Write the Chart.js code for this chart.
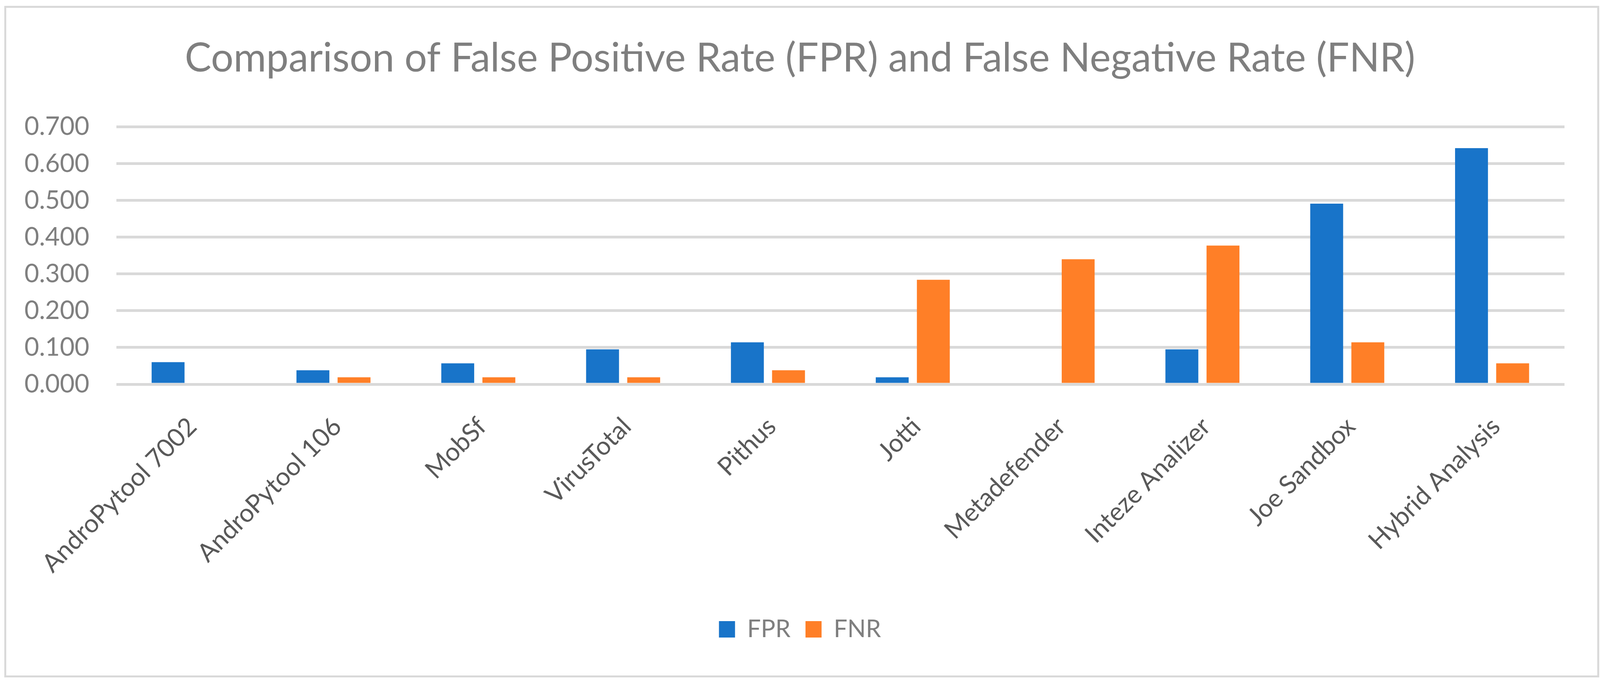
<!DOCTYPE html>
<html>
<head>
<meta charset="utf-8">
<script src="https://cdn.jsdelivr.net/npm/chart.js@4/dist/chart.umd.min.js"></script>
<style>
  html, body { margin: 0; padding: 0; background: #ffffff; overflow: hidden; }
  #frame { position: absolute; border: 5px solid #d9d9d9; box-sizing: content-box; }
  #wrap { position: absolute; left: 0; top: 0; }
</style>
</head>
<body>
<div id="frame"></div>
<div id="wrap"><canvas id="c"></canvas></div>
<script>
const categories = ["AndroPytool 7002", "AndroPytool 106", "MobSf", "VirusTotal", "Pithus", "Jotti", "Metadefender", "Inteze Analizer", "Joe Sandbox", "Hybrid Analysis"];
const fprValues = [0.060, 0.038, 0.057, 0.095, 0.114, 0.019, 0.000, 0.095, 0.491, 0.642];
const fnrValues = [0.000, 0.019, 0.019, 0.019, 0.038, 0.284, 0.340, 0.377, 0.114, 0.057];
const seriesNames = ["FPR", "FNR"];
const titleText = "Comparison of False Positive Rate (FPR) and False Negative Rate (FNR)";
const yMin = 0, yMax = 0.7, yStep = 0.1;

const FONT = "Lato, 'Open Sans', sans-serif";

// Design frame is 4281 x 1755; adapt to the actual viewport.
const W = window.innerWidth || 4281, H = window.innerHeight || 1755;
const kx = W / 4281, ky = H / 1755;
const X = v => v * kx, Y = v => v * ky;

const wrap = document.getElementById('wrap');
wrap.style.width = W + 'px';
wrap.style.height = H + 'px';
document.body.style.width = W + 'px';
document.body.style.height = H + 'px';
const frame = document.getElementById('frame');
frame.style.left = X(12) + 'px';
frame.style.top = Y(15) + 'px';
frame.style.width = (X(4279) - X(12) - 10) + 'px';
frame.style.height = (Y(1733) - Y(15) - 10) + 'px';

const TS = 106.5 * kx;            // title font size
const TICK = 65 * ky;             // tick font size
const LS = 62 * ky;               // legend font size
const LP = 40 * kx;               // legend padding
const titleTop = Y(152.5) - 0.627 * TS;
const titleBottom = Y(324.5) - titleTop - 1.2 * TS;
const padBottom = H - Y(1610) - LS / 2 - 10;

new Chart(document.getElementById('c'), {
  type: 'bar',
  data: {
    labels: categories,
    datasets: [
      { label: seriesNames[0], data: fprValues, backgroundColor: '#1874c9', categoryPercentage: 0.568, barPercentage: 0.8, yAxisID: 'y' },
      { label: seriesNames[1], data: fnrValues, backgroundColor: '#ff7f27', categoryPercentage: 0.568, barPercentage: 0.8, yAxisID: 'y' }
    ]
  },
  options: {
    responsive: true,
    maintainAspectRatio: false,
    animation: false,
    devicePixelRatio: 1,
    layout: { padding: { left: 0, right: 0, top: 0, bottom: padBottom } },
    plugins: {
      tooltip: { enabled: false },
      title: {
        display: true,
        text: titleText,
        color: '#7f7f7f',
        font: { family: FONT, size: TS, weight: 'normal', lineHeight: 1.2 },
        padding: { top: titleTop, bottom: titleBottom }
      },
      legend: {
        display: true,
        position: 'bottom',
        labels: {
          color: '#7f7f7f',
          font: { family: FONT, size: LS },
          boxWidth: X(43),
          boxHeight: Y(42),
          padding: LP
        }
      }
    },
    scales: {
      x: {
        grid: { display: false, drawTicks: false },
        border: { display: false },
        ticks: {
          color: '#595959',
          font: { family: FONT, size: TICK },
          maxRotation: 45,
          minRotation: 45,
          padding: Y(70),
          labelOffset: X(10),
          autoSkip: false
        },
        afterFit: (s) => {
          const lg = s.chart.legend;
          const lh = (lg && lg.height) ? lg.height : (LS + LP + 10);
          s.height = H - padBottom - lh - Y(983);
        }
      },
      y: {
        position: 'left',
        min: yMin,
        max: yMax,
        ticks: {
          stepSize: yStep,
          color: '#7f7f7f',
          font: { family: FONT, size: TICK },
          padding: X(72),
          callback: (v) => Number(v).toFixed(3)
        },
        grid: { color: '#d9d9d9', lineWidth: 7 * ky, drawTicks: false },
        border: { display: false },
        afterFit: (s) => { s.width = X(311); }
      },
      yRight: {
        position: 'right',
        display: true,
        min: yMin,
        max: yMax,
        ticks: { display: false },
        grid: { display: false, drawTicks: false },
        border: { display: false },
        afterFit: (s) => { s.width = W - X(4186); }
      }
    }
  }
});
</script>
</body>
</html>
